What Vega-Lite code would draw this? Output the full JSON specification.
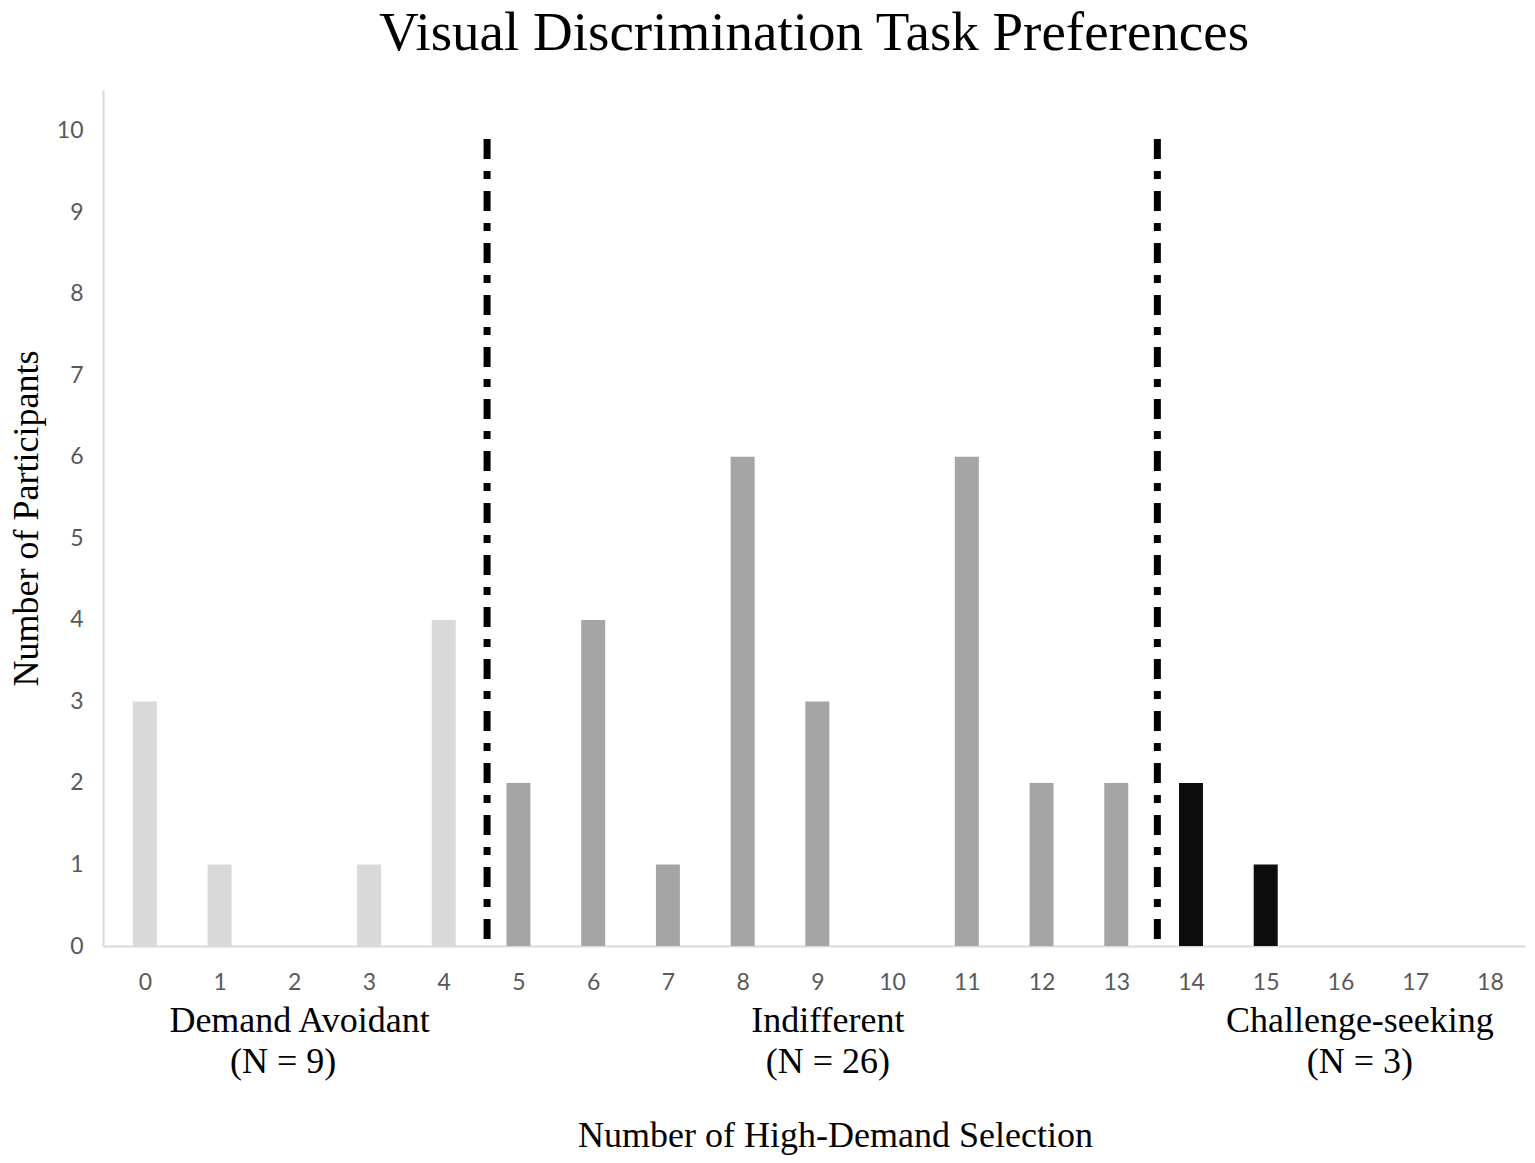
{
  "$schema": "https://vega.github.io/schema/vega-lite/v6.json",
  "width": 1422,
  "height": 856,
  "autosize": "none",
  "padding": {"left": 103, "top": 90, "right": 10, "bottom": 217},
  "background": "white",
  "title": {
    "text": "Visual Discrimination Task Preferences",
    "font": "Liberation Serif",
    "fontSize": 55,
    "fontWeight": "normal",
    "color": "black",
    "anchor": "middle",
    "offset": 28
  },
  "config": {
    "view": {"stroke": null},
    "axis": {"grid": false, "ticks": false, "domainColor": "#d9d9d9", "domainWidth": 2}
  },
  "datasets": {
    "bars": [
      {"selections": 0, "participants": 3, "group": "Demand Avoidant"},
      {"selections": 1, "participants": 1, "group": "Demand Avoidant"},
      {"selections": 2, "participants": 0, "group": "Demand Avoidant"},
      {"selections": 3, "participants": 1, "group": "Demand Avoidant"},
      {"selections": 4, "participants": 4, "group": "Demand Avoidant"},
      {"selections": 5, "participants": 2, "group": "Indifferent"},
      {"selections": 6, "participants": 4, "group": "Indifferent"},
      {"selections": 7, "participants": 1, "group": "Indifferent"},
      {"selections": 8, "participants": 6, "group": "Indifferent"},
      {"selections": 9, "participants": 3, "group": "Indifferent"},
      {"selections": 10, "participants": 0, "group": "Indifferent"},
      {"selections": 11, "participants": 6, "group": "Indifferent"},
      {"selections": 12, "participants": 2, "group": "Indifferent"},
      {"selections": 13, "participants": 2, "group": "Indifferent"},
      {"selections": 14, "participants": 2, "group": "Challenge-seeking"},
      {"selections": 15, "participants": 1, "group": "Challenge-seeking"},
      {"selections": 16, "participants": 0, "group": "Challenge-seeking"},
      {"selections": 17, "participants": 0, "group": "Challenge-seeking"},
      {"selections": 18, "participants": 0, "group": "Challenge-seeking"}
    ],
    "cutoffs": [
      {"boundary": 4.58, "top": 9.9, "bottom": 0},
      {"boundary": 13.55, "top": 9.9, "bottom": 0}
    ],
    "groupLabels": [
      {"pos": 2.07, "level": -0.92, "label": "Demand Avoidant"},
      {"pos": 1.85, "level": -1.42, "label": "(N = 9)"},
      {"pos": 9.14, "level": -0.92, "label": "Indifferent"},
      {"pos": 9.14, "level": -1.42, "label": "(N = 26)"},
      {"pos": 16.26, "level": -0.92, "label": "Challenge-seeking"},
      {"pos": 16.26, "level": -1.42, "label": "(N = 3)"}
    ]
  },
  "layer": [
    {
      "data": {"name": "bars"},
      "mark": {"type": "bar", "width": 24},
      "encoding": {
        "x": {
          "field": "selections",
          "type": "quantitative",
          "scale": {"domain": [-0.56, 18.47], "nice": false, "zero": false, "padding": 0},
          "axis": {
            "values": [0, 1, 2, 3, 4, 5, 6, 7, 8, 9, 10, 11, 12, 13, 14, 15, 16, 17, 18],
            "format": "d",
            "labelFont": "Lato",
            "labelFontSize": 23,
            "labelColor": "#595959",
            "labelPadding": 25,
            "title": "Number of High-Demand Selection",
            "titleFont": "Liberation Serif",
            "titleFontSize": 36,
            "titleFontWeight": "normal",
            "titleColor": "black",
            "titlePadding": 124,
            "titleX": 732
          }
        },
        "y": {
          "field": "participants",
          "type": "quantitative",
          "scale": {"domain": [0, 10.5], "nice": false, "padding": 0},
          "axis": {
            "values": [0, 1, 2, 3, 4, 5, 6, 7, 8, 9, 10],
            "format": "d",
            "labelFont": "Lato",
            "labelFontSize": 23,
            "labelColor": "#595959",
            "labelPadding": 20,
            "title": "Number of Participants",
            "titleFont": "Liberation Serif",
            "titleFontSize": 36,
            "titleFontWeight": "normal",
            "titleColor": "black",
            "titlePadding": 11
          }
        },
        "color": {
          "field": "group",
          "type": "nominal",
          "scale": {
            "domain": ["Demand Avoidant", "Indifferent", "Challenge-seeking"],
            "range": ["#d9d9d9", "#a5a5a5", "#0d0d0d"]
          },
          "legend": null
        }
      }
    },
    {
      "data": {"name": "cutoffs"},
      "mark": {"type": "rule", "color": "black", "strokeWidth": 7, "strokeDash": [20, 12, 8, 12], "strokeCap": "butt"},
      "encoding": {
        "x": {"field": "boundary", "type": "quantitative"},
        "y": {"field": "top", "type": "quantitative"},
        "y2": {"field": "bottom"}
      }
    },
    {
      "data": {"name": "groupLabels"},
      "mark": {"type": "text", "font": "Liberation Serif", "fontSize": 36, "color": "black", "align": "center", "baseline": "middle"},
      "encoding": {
        "x": {"field": "pos", "type": "quantitative"},
        "y": {"field": "level", "type": "quantitative"},
        "text": {"field": "label"}
      }
    }
  ]
}
